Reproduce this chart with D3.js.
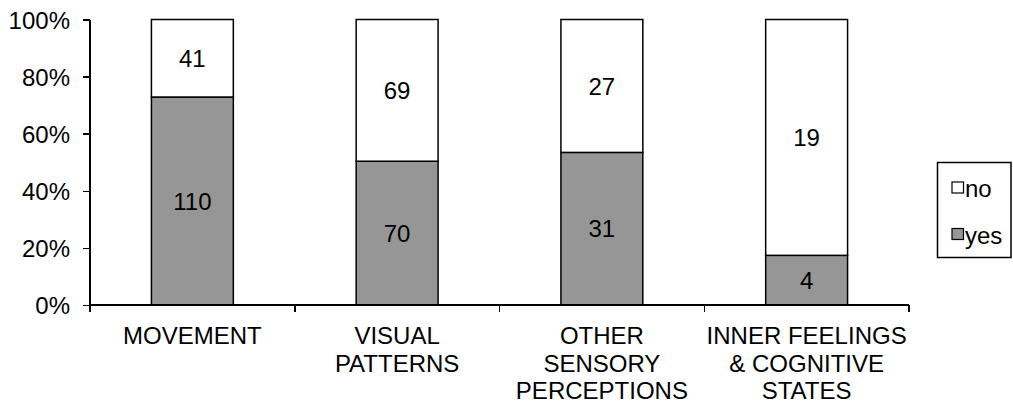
<!DOCTYPE html>
<html>
<head>
<meta charset="utf-8">
<script src="https://cdn.jsdelivr.net/npm/d3@7"></script>
<style>
  body { margin: 0; background: #fff; }
  text { font-family: "Liberation Sans", Arial, Helvetica, sans-serif; fill: #000; }
</style>
</head>
<body>
<svg id="chart"></svg>
<script>
(function() {

  // data
  var categories = [
    ["MOVEMENT"],
    ["VISUAL", "PATTERNS"],
    ["OTHER", "SENSORY", "PERCEPTIONS"],
    ["INNER FEELINGS", "& COGNITIVE", "STATES"]
  ];
  var yesValues = [110, 70, 31, 4];
  var noValues = [41, 69, 27, 19];
  var seriesNames = ["no", "yes"];
  var yTicks = [0, 0.2, 0.4, 0.6, 0.8, 1];

  var width = 1013,
    height = 403,
    plotLeft = 90,
    plotRight = 909,
    plotTop = 19.5,
    plotBottom = 305,
    fontSize = 24;

  var svg = d3.select("#chart")
    .attr("width", width)
    .attr("height", height);

  var keys = categories.map(function(d, i) { return i; });

  var x = d3.scaleBand()
    .domain(keys)
    .range([plotLeft, plotRight])
    .paddingInner(0.6)
    .paddingOuter(0.3);

  var y = d3.scaleLinear()
    .domain([0, 1])
    .range([plotBottom, plotTop]);

  var colors = { yes: "#969696", no: "#ffffff" };

  // normalise each column to 100% and stack
  var rows = keys.map(function(i) {
    var total = yesValues[i] + noValues[i];
    return { key: i, yes: yesValues[i] / total, no: noValues[i] / total, yesN: yesValues[i], noN: noValues[i] };
  });

  var layers = d3.stack().keys(["yes", "no"])(rows);

  var groups = svg.selectAll("g.layer")
    .data(layers)
    .enter().append("g")
    .attr("class", "layer");

  function cells(layer) {
    return layer.map(function(d) { return { s: layer.key, d: d }; });
  }

  groups.selectAll("rect")
    .data(cells)
    .enter().append("rect")
    .attr("x", function(o) { return x(o.d.data.key); })
    .attr("width", x.bandwidth())
    .attr("y", function(o) { return y(o.d[1]); })
    .attr("height", function(o) { return y(o.d[0]) - y(o.d[1]); })
    .style("fill", function(o) { return colors[o.s]; })
    .style("stroke", "#000")
    .style("stroke-width", 1.5);

  groups.selectAll("text")
    .data(cells)
    .enter().append("text")
    .attr("x", function(o) { return x(o.d.data.key) + x.bandwidth() / 2; })
    .attr("y", function(o) { return (y(o.d[0]) + y(o.d[1])) / 2; })
    .attr("dy", "0.36em")
    .style("font-size", fontSize + "px")
    .style("text-anchor", "middle")
    .text(function(o) { return o.d.data[o.s + "N"]; });

  // y axis
  var yAxis = d3.axisLeft(y)
    .tickValues(yTicks)
    .tickSize(7)
    .tickPadding(13)
    .tickFormat(d3.format(".0%"));

  var yG = svg.append("g")
    .attr("class", "y axis")
    .attr("transform", "translate(" + plotLeft + ",0)")
    .call(yAxis);

  yG.select(".domain").remove();
  yG.append("line")
    .attr("x1", 0).attr("x2", 0)
    .attr("y1", plotTop).attr("y2", plotBottom);

  yG.selectAll("text")
    .style("font-size", fontSize + "px")
    .style("font-family", "'Liberation Sans', Arial, sans-serif")
    .attr("dy", "0.36em");

  // x axis with ticks at category boundaries
  var xG = svg.append("g").attr("class", "x axis");
  xG.append("line")
    .attr("x1", plotLeft).attr("x2", plotRight)
    .attr("y1", plotBottom).attr("y2", plotBottom);

  var step = x.step();
  var bounds = d3.range(categories.length + 1).map(function(i) {
    return x(0) - step * x.paddingOuter() + i * step;
  });

  xG.selectAll("line.tick")
    .data(bounds)
    .enter().append("line")
    .attr("class", "tick")
    .attr("x1", function(d) { return d; })
    .attr("x2", function(d) { return d; })
    .attr("y1", plotBottom)
    .attr("y2", plotBottom + 7);

  svg.selectAll(".axis line, .axis path")
    .style("stroke", "#000")
    .style("stroke-width", 1.5)
    .style("fill", "none")
    .style("shape-rendering", "crispEdges");

  // category labels
  var catLabels = svg.selectAll("text.cat")
    .data(categories)
    .enter().append("text")
    .attr("class", "cat")
    .attr("x", function(d, i) { return x(i) + x.bandwidth() / 2; })
    .attr("y", 344)
    .style("font-size", fontSize + "px")
    .style("text-anchor", "middle");

  catLabels.selectAll("tspan")
    .data(function(d) { return d; })
    .enter().append("tspan")
    .attr("x", function() { return d3.select(this.parentNode).attr("x"); })
    .attr("dy", function(d, i) { return i === 0 ? 0 : 27.5; })
    .text(function(d) { return d; });

  // legend
  var legend = svg.append("g")
    .attr("transform", "translate(937.5,162.5)");

  legend.append("rect")
    .attr("width", 73.5)
    .attr("height", 95)
    .style("fill", "#fff")
    .style("stroke", "#000")
    .style("stroke-width", 1.5);

  var items = legend.selectAll("g.item")
    .data(seriesNames)
    .enter().append("g")
    .attr("class", "item")
    .attr("transform", function(d, i) { return "translate(14.5," + (19.5 + i * 46.5) + ")"; });

  items.append("rect")
    .attr("width", 11.5)
    .attr("height", 11)
    .style("fill", function(d) { return colors[d]; })
    .style("stroke", "#000")
    .style("stroke-width", 1.2);

  items.append("text")
    .attr("x", 13)
    .attr("y", 15)
    .style("font-size", fontSize + "px")
    .text(function(d) { return d; });

})();
</script>
</body>
</html>
